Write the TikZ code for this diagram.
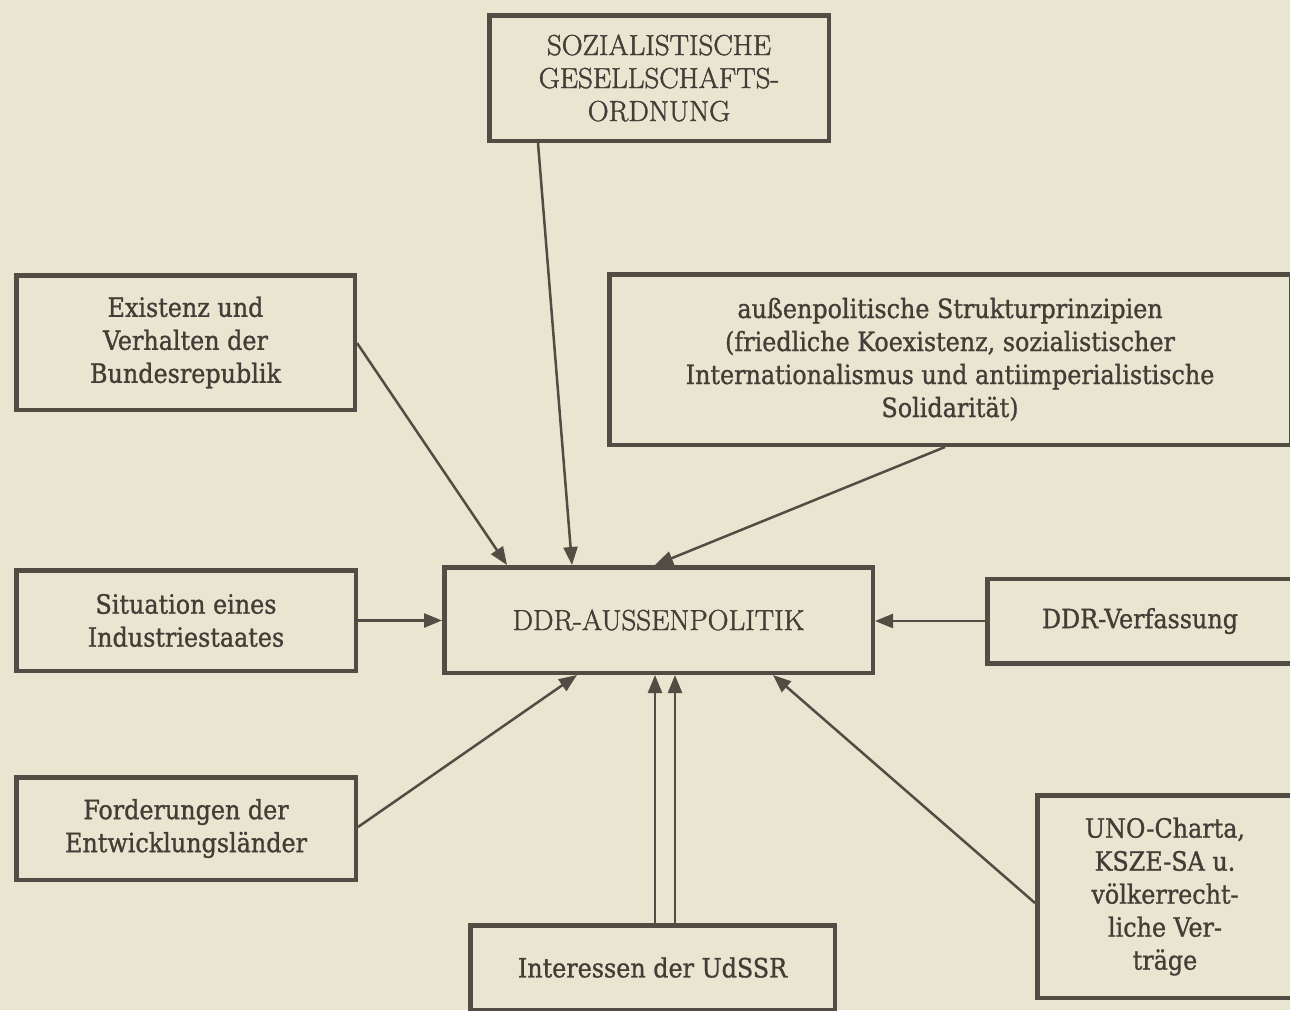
\documentclass[tikz,border=0pt]{standalone}
\usepackage{fontspec}
\newfontfamily\slab[FakeBold=1]{DejaVu Serif Condensed}
\newfontfamily\classic[FakeBold=1.5]{Latin Modern Roman}
\usetikzlibrary{arrows.meta}

\definecolor{paper}{RGB}{234,229,208}
\definecolor{ink}{RGB}{82,76,68}

\begin{document}
\begin{tikzpicture}[x=1pt, y=-1pt,
  box/.style={draw=ink, line width=4.5pt, align=center, inner sep=0pt, text=ink!80!black},
  slabtext/.style={font=\slab\fontsize{26.5}{33}\selectfont},
  romantext/.style={font=\classic\fontsize{29}{33}\selectfont},
  infl/.style={draw=ink, line width=2.5pt, -{Triangle[length=18pt, width=14pt]}}]

  % page
  \useasboundingbox (0,0) rectangle (1290,1010);
  \fill[paper] (0,0) rectangle (1290,1010);

  % centre box
  \node[box, romantext, minimum width=428.5pt, minimum height=105.5pt] (main) at (658.5,620) {DDR-AUSSENPOLITIK};

  % influences
  \node[box, romantext, minimum width=339.5pt, minimum height=125.5pt] (soz) at (659,78)
    {SOZIALISTISCHE\\GESELLSCHAFTS-\\ORDNUNG};
  \node[box, slabtext, minimum width=338.5pt, minimum height=134.5pt] (exist) at (185.5,342.5)
    {Existenz und\\Verhalten der\\Bundesrepublik};
  \node[box, slabtext, minimum width=681.5pt, minimum height=170.5pt] (aussen) at (950,359.5)
    {außenpolitische Strukturprinzipien\\(friedliche Koexistenz, sozialistischer\\Internationalismus und antiimperialistische\\Solidarität)};
  \node[box, slabtext, minimum width=339.5pt, minimum height=100.5pt] (situation) at (186,620.5)
    {Situation eines\\Industriestaates};
  \node[box, slabtext, minimum width=305.5pt, minimum height=84.5pt] (verf) at (1140,621)
    {DDR-Verfassung};
  \node[box, slabtext, minimum width=339.5pt, minimum height=102.5pt] (ford) at (186,828.5)
    {Forderungen der\\Entwicklungsländer};
  \node[box, slabtext, minimum width=364.5pt, minimum height=84.5pt] (udssr) at (652.5,967.5)
    {Interessen der UdSSR};
  \node[box, slabtext, minimum width=255.5pt, minimum height=202.5pt] (uno) at (1165,896.5)
    {UNO-Charta,\\KSZE-SA u.\\völkerrecht-\\liche Ver-\\träge};

  % arrows into the centre box
  \draw[infl] ([xshift=51pt]soz.south west) -- ([xshift=130pt]main.north west);
  \draw[infl] ([yshift=-70pt]exist.north east) -- ([xshift=65pt]main.north west);
  \draw[infl] ([xshift=338pt]aussen.south west) -- ([xshift=213pt]main.north west);
  \draw[infl] (situation.east) -- (situation.east -| main.west);
  \draw[infl] (verf.west) -- (verf.west -| main.east);
  \draw[infl] ([yshift=-52pt]ford.north east) -- ([xshift=135pt]main.south west);
  \draw[infl] ([yshift=-110pt]uno.north west) -- ([xshift=331pt]main.south west);

  % two arrows from below
  \coordinate (u1) at ([xshift=187pt]udssr.north west);
  \coordinate (u2) at ([xshift=207pt]udssr.north west);
  \draw[infl] (u1) -- (u1 |- main.south);
  \draw[infl] (u2) -- (u2 |- main.south);

\end{tikzpicture}
\end{document}
